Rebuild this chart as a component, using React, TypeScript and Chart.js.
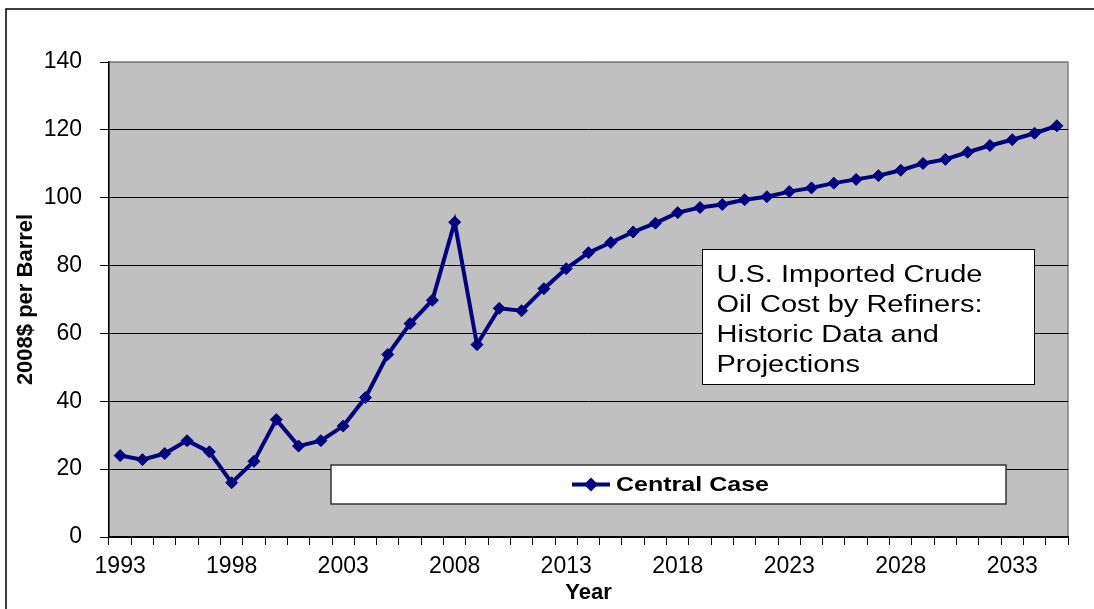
import React, { useEffect, useRef } from 'react';
import { Chart, registerables } from 'chart.js';

Chart.register(...registerables);

const FONT = '"Liberation Sans", Arial, Helvetica, sans-serif';

const years: string[] = [
  '1993', '1994', '1995', '1996', '1997', '1998', '1999', '2000', '2001', '2002',
  '2003', '2004', '2005', '2006', '2007', '2008', '2009', '2010', '2011', '2012',
  '2013', '2014', '2015', '2016', '2017', '2018', '2019', '2020', '2021', '2022',
  '2023', '2024', '2025', '2026', '2027', '2028', '2029', '2030', '2031', '2032',
  '2033', '2034', '2035',
];

const centralCase: number[] = [
  24.0, 22.8, 24.6, 28.4, 25.1, 16.0, 22.3, 34.6, 26.8, 28.4,
  32.7, 41.1, 53.8, 62.9, 69.8, 92.8, 56.7, 67.4, 66.7, 73.2,
  79.1, 83.8, 86.8, 89.9, 92.5, 95.6, 97.1, 98.0, 99.4, 100.3,
  101.8, 102.9, 104.3, 105.4, 106.5, 108.1, 110.1, 111.3, 113.4, 115.4,
  117.1, 119.0, 121.2,
];

const yMin = 0;
const yMax = 140;
const yStep = 20;
const labelEvery = 5;

const seriesName = 'Central Case';
const xTitle = 'Year';
const yTitle = '2008$ per Barrel';
const noteLines = ['U.S. Imported Crude', 'Oil Cost by Refiners:', 'Historic Data and', 'Projections'];

const NAVY = '#000080';

function stretchedText(
  ctx: CanvasRenderingContext2D,
  text: string,
  x: number,
  y: number,
  sx: number,
) {
  ctx.save();
  ctx.translate(x, y);
  ctx.scale(sx, 1);
  ctx.fillText(text, 0, 0);
  ctx.restore();
}

export default function App() {
  const ref = useRef<HTMLCanvasElement>(null);

  useEffect(() => {
    const canvas = ref.current;
    if (!canvas) return;

    const framePlugin = {
      id: 'frame',
      beforeDraw(chart: any) {
        const { ctx, chartArea: a } = chart;
        ctx.save();
        ctx.fillStyle = '#ffffff';
        ctx.fillRect(0, 0, chart.width, chart.height);
        // outer chart border
        ctx.strokeStyle = '#000000';
        ctx.lineWidth = 1.5;
        ctx.beginPath();
        ctx.moveTo(6, chart.height + 10);
        ctx.lineTo(6, 9);
        ctx.lineTo(chart.width + 10, 9);
        ctx.stroke();
        // plot area
        ctx.fillStyle = '#C0C0C0';
        ctx.fillRect(a.left, a.top, a.right - a.left, a.bottom - a.top);
        ctx.strokeStyle = '#808080';
        ctx.lineWidth = 1.5;
        ctx.strokeRect(a.left, a.top, a.right - a.left, a.bottom - a.top);
        ctx.restore();
      },
      afterDatasetsDraw(chart: any) {
        const { ctx } = chart;
        ctx.save();
        // legend box
        const lx = 331, ly = 465, lw = 675, lh = 39;
        ctx.fillStyle = '#ffffff';
        ctx.fillRect(lx, ly, lw, lh);
        ctx.strokeStyle = '#333333';
        ctx.lineWidth = 1.5;
        ctx.strokeRect(lx, ly, lw, lh);
        const cy = ly + lh / 2;
        ctx.strokeStyle = NAVY;
        ctx.lineWidth = 4;
        ctx.beginPath();
        ctx.moveTo(572, cy);
        ctx.lineTo(610, cy);
        ctx.stroke();
        ctx.fillStyle = NAVY;
        ctx.beginPath();
        ctx.moveTo(591, cy - 7);
        ctx.lineTo(598, cy);
        ctx.lineTo(591, cy + 7);
        ctx.lineTo(584, cy);
        ctx.closePath();
        ctx.fill();
        ctx.fillStyle = '#000000';
        ctx.font = `bold 21px ${FONT}`;
        ctx.textBaseline = 'middle';
        ctx.textAlign = 'left';
        const lwText = ctx.measureText(seriesName).width;
        stretchedText(ctx, seriesName, 616, cy + 1, 153 / lwText);

        // note box
        const bx = 702, by = 249, bw = 332, bh = 135;
        ctx.fillStyle = '#ffffff';
        ctx.fillRect(bx, by, bw, bh);
        ctx.strokeStyle = '#000000';
        ctx.lineWidth = 1;
        ctx.strokeRect(bx + 0.5, by + 0.5, bw, bh);
        ctx.fillStyle = '#000000';
        ctx.font = `23px ${FONT}`;
        ctx.textBaseline = 'alphabetic';
        const w0 = ctx.measureText(noteLines[0]).width;
        const sx = 266 / w0;
        noteLines.forEach((t, i) => {
          stretchedText(ctx, t, 716.5, 282 + i * 30, sx);
        });
        ctx.restore();
      },
    };

    const chart = new Chart(canvas, {
      type: 'line',
      data: {
        labels: years,
        datasets: [
          {
            label: seriesName,
            data: centralCase,
            borderColor: NAVY,
            backgroundColor: NAVY,
            borderWidth: 4,
            pointStyle: 'rectRot',
            pointRadius: 6,
            pointBorderWidth: 1,
            pointBackgroundColor: NAVY,
            pointBorderColor: NAVY,
            tension: 0,
            fill: false,
          },
        ],
      },
      options: {
        responsive: false,
        animation: false,
        devicePixelRatio: 1,
        layout: { padding: { left: 0, right: 26, top: 62, bottom: 0 } },
        plugins: {
          legend: { display: false },
          tooltip: { enabled: false },
          title: { display: false },
        },
        scales: {
          x: {
            type: 'category',
            offset: true,
            afterFit: (s: any) => {
              s.height = 72;
            },
            grid: {
              display: true,
              offset: true,
              drawOnChartArea: false,
              drawTicks: true,
              tickLength: 8,
              color: '#000000',
              tickColor: '#000000',
              lineWidth: 1,
            },
            border: { display: true, color: '#000000', width: 1.5 },
            ticks: {
              autoSkip: false,
              maxRotation: 0,
              minRotation: 0,
              padding: 8,
              color: '#000000',
              font: { family: FONT, size: 23 },
              callback: (_v: any, i: number) => (i % labelEvery === 0 ? years[i] : ''),
            },
            title: {
              display: true,
              text: xTitle,
              color: '#000000',
              font: { family: FONT, size: 22, weight: 'bold' },
              padding: { top: 0, bottom: 3 },
            },
          },
          y: {
            min: yMin,
            max: yMax,
            afterFit: (s: any) => {
              s.width = 109;
            },
            grid: {
              display: true,
              drawOnChartArea: true,
              drawTicks: true,
              tickLength: 9,
              color: (c: any) => (c.tick && c.tick.value === yMax ? '#808080' : '#000000'),
              tickColor: '#000000',
              lineWidth: 1,
            },
            border: { display: true, color: '#000000', width: 1.5 },
            ticks: {
              stepSize: yStep,
              padding: 18,
              color: '#000000',
              font: { family: FONT, size: 23 },
            },
            title: {
              display: true,
              text: yTitle,
              color: '#000000',
              font: { family: FONT, size: 22, weight: 'bold' },
              padding: { top: 13, bottom: 0 },
            },
          },
        },
      },
      plugins: [framePlugin],
    });

    return () => {
      chart.destroy();
    };
  }, []);

  return (
    <div style={{ position: 'absolute', left: 0, top: 0, width: 1094, height: 609, background: '#fff' }}>
      <canvas ref={ref} width={1094} height={609} style={{ display: 'block', width: 1094, height: 609 }} />
    </div>
  );
}
